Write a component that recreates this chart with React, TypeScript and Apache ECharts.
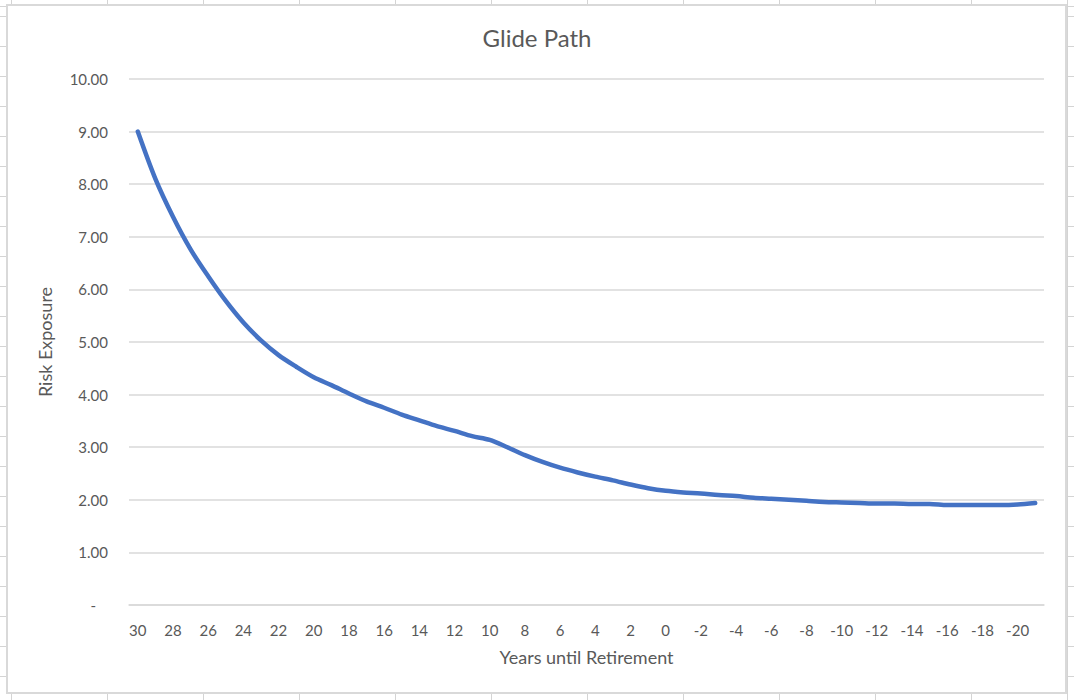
import React, { useEffect, useRef } from "react";
import * as echarts from "echarts";

// years until retirement, 30 down to -21
const years = [
  "30", "29", "28", "27", "26", "25", "24", "23", "22", "21",
  "20", "19", "18", "17", "16", "15", "14", "13", "12", "11",
  "10", "9", "8", "7", "6", "5", "4", "3", "2", "1",
  "0", "-1", "-2", "-3", "-4", "-5", "-6", "-7", "-8", "-9",
  "-10", "-11", "-12", "-13", "-14", "-15", "-16", "-17", "-18", "-19",
  "-20", "-21",
];

const riskExposure = [
  9.0, 8.1, 7.38, 6.76, 6.25, 5.78, 5.37, 5.03, 4.75, 4.53,
  4.33, 4.18, 4.02, 3.87, 3.75, 3.62, 3.51, 3.4, 3.31, 3.21,
  3.14, 3.0, 2.85, 2.72, 2.61, 2.52, 2.44, 2.37, 2.29, 2.22,
  2.17, 2.14, 2.12, 2.09, 2.07, 2.04, 2.02, 2.0, 1.98, 1.96,
  1.95, 1.94, 1.93, 1.93, 1.92, 1.92, 1.9, 1.9, 1.9, 1.9,
  1.91, 1.94,
];

const FONT = "Lato, 'Noto Sans', sans-serif";
const TEXT = "#595959";
const GRID = "#d9d9d9";

const App = () => {
  const chartRef = useRef<HTMLDivElement>(null);

  useEffect(() => {
    if (!chartRef.current) return;
    const chart = echarts.init(chartRef.current, null, { renderer: "svg" });

    const option = {
      animation: false,
      textStyle: { fontFamily: FONT },
      graphic: [
        {
          type: "rect",
          z: -10,
          silent: true,
          shape: { x: 7, y: 5, width: 1059, height: 688 },
          style: { fill: "#ffffff", stroke: GRID, lineWidth: 2 },
        },
      ],
      title: {
        text: "Glide Path",
        left: "center",
        top: 20,
        textStyle: { fontFamily: FONT, fontSize: 24, fontWeight: "normal", color: TEXT },
      },
      grid: { left: 129, right: 30, top: 79, bottom: 95 },
      xAxis: {
        type: "category",
        data: years,
        boundaryGap: true,
        name: "Years until Retirement",
        nameLocation: "middle",
        nameGap: 43,
        nameTextStyle: { fontFamily: FONT, fontSize: 18, color: TEXT },
        axisLine: { show: true, lineStyle: { color: GRID, width: 1.5 } },
        axisTick: { show: false },
        axisLabel: {
          interval: 1,
          margin: 17,
          fontFamily: FONT,
          fontSize: 15,
          color: TEXT,
        },
        splitLine: { show: false },
      },
      yAxis: {
        type: "value",
        min: 0,
        max: 10,
        interval: 1,
        name: "Risk Exposure",
        nameLocation: "middle",
        nameGap: 75,
        nameRotate: 90,
        nameTextStyle: { fontFamily: FONT, fontSize: 18, color: TEXT },
        axisLine: { show: false },
        axisTick: { show: false },
        axisLabel: {
          margin: 21,
          fontFamily: FONT,
          fontSize: 15,
          color: TEXT,
          formatter: (v: number) => (v === 0 ? "{d|-}" : v.toFixed(2)),
          rich: {
            d: { fontFamily: FONT, fontSize: 15, color: TEXT, padding: [0, 12, 0, 0] },
          },
        },
        splitLine: { lineStyle: { color: GRID, width: 1.5 } },
      },
      series: [
        {
          name: "Risk Exposure",
          type: "line",
          data: riskExposure,
          smooth: 0.3,
          showSymbol: false,
          lineStyle: { color: "#4472C4", width: 4.5, cap: "round", join: "round" },
          itemStyle: { color: "#4472C4" },
        },
      ],
    };

    chart.setOption(option);
    return () => chart.dispose();
  }, []);

  return (
    <div
      style={{
        position: "absolute",
        left: 0,
        top: 0,
        width: "1074px",
        height: "700px",
        backgroundColor: "#ffffff",
        backgroundImage:
          "repeating-linear-gradient(to right, #d4d4d4 0px, #d4d4d4 1px, transparent 1px, transparent 96px)," +
          "repeating-linear-gradient(to bottom, #d4d4d4 0px, #d4d4d4 1px, transparent 1px, transparent 30px)",
        backgroundPosition: "11px 0px, 0px 16px",
      }}
    >
      <div ref={chartRef} style={{ width: "1074px", height: "700px" }} />
    </div>
  );
};

export default App;
